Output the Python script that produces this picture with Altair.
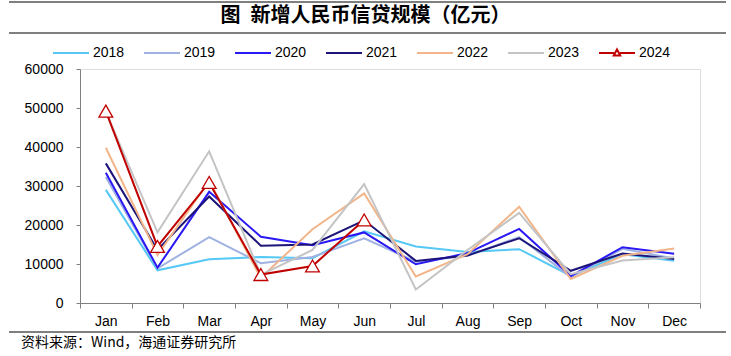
import altair as alt
import pandas as pd

months = ["Jan", "Feb", "Mar", "Apr", "May", "Jun", "Jul", "Aug", "Sep", "Oct", "Nov", "Dec"]
years = ["2018", "2019", "2020", "2021", "2022", "2023", "2024"]

v2018 = [29000, 8393, 11200, 11800, 11500, 18400, 14500, 13100, 13800, 6970, 12500, 10800]
v2019 = [32300, 8858, 16900, 10200, 11800, 16600, 10600, 12100, 16900, 6613, 13900, 11400]
v2020 = [33400, 9057, 28500, 17000, 14800, 18100, 9927, 12800, 19000, 6898, 14300, 12600]
v2021 = [35800, 13600, 27300, 14700, 15000, 21200, 10800, 12200, 16600, 8262, 12700, 11300]
v2022 = [39800, 12300, 31300, 6454, 18900, 28100, 6790, 12500, 24700, 6152, 12100, 14000]
v2023 = [49000, 18100, 38900, 7188, 13600, 30500, 3459, 13600, 23100, 7384, 10900, 11700]
v2024 = [49200, 14500, 30900, 7300, 9500, 21300]

series = [v2018, v2019, v2020, v2021, v2022, v2023, v2024]
colors = ["#55C8F5", "#9FB2E2", "#2A18F5", "#1C1478", "#F2B58A", "#C4C4C4", "#C00000"]
widths = [2, 2, 2, 2, 2, 2, 3]
y_ticks = [0, 10000, 20000, 30000, 40000, 50000, 60000]

title_text = "图\u2002新增人民币信贷规模（亿元）"
source_text = "资料来源：Wind，海通证券研究所"

rows = []
for yr, vals in zip(years, series):
    for m, v in zip(months, vals):
        rows.append({"month": m, "year": yr, "value": v})
df = pd.DataFrame(rows)
df24 = df[df["year"] == "2024"]

FONT = "Liberation Sans"
CJK = "Noto Sans CJK SC"
AXC = "#808080"

LINE_PATH = "M-1,0H1"
TRI_PATH = "M-1,0H-0.17M0.17,0H1M0,-0.2L0.18,0.14L-0.18,0.14Z"
shapes = [LINE_PATH] * 6 + [TRI_PATH]

x_enc = alt.X(
    "month:N", sort=months, bandPosition=0.5,
    scale=alt.Scale(type="band", paddingInner=0, paddingOuter=0),
    axis=alt.Axis(title=None, tickBand="extent", labelAngle=0, labelFont=FONT,
                  labelFontSize=14, labelColor="black", labelPadding=6,
                  tickSize=5, tickColor=AXC, domainColor=AXC, grid=False),
)
y_enc = alt.Y(
    "value:Q", scale=alt.Scale(domain=[0, 60000], nice=False),
    axis=alt.Axis(title=None, values=y_ticks, format="d", labelFont=FONT,
                  labelFontSize=14, labelColor="black", labelPadding=13,
                  tickSize=4, tickColor=AXC, domainColor=AXC, grid=False),
)

legend = alt.Legend(
    orient="none", legendX=-28, legendY=-35, direction="horizontal", columns=7,
    title=None, symbolSize=1296, symbolStrokeWidth=2,
    labelFont=FONT, labelFontSize=14, labelColor="black", labelOffset=3,
    columnPadding=15,
)

lines = alt.Chart(df).mark_line(strokeJoin="miter").encode(
    x=x_enc, y=y_enc,
    color=alt.Color("year:N", scale=alt.Scale(domain=years, range=colors), legend=None),
    strokeWidth=alt.StrokeWidth("year:N", scale=alt.Scale(domain=years, range=widths), legend=None),
)

points = alt.Chart(df24).mark_point(
    shape="triangle-up", filled=True, fill="white", stroke="#C00000",
    strokeWidth=1.3, size=190, opacity=1,
).encode(x=x_enc, y=y_enc)

# legend-only layer: drawn outside the clipped plot area
legend_layer = alt.Chart(df24).mark_point(filled=False, clip=True, size=1296, opacity=1).encode(
    x=alt.value(0), y=alt.value(-3000),
    color=alt.Color("year:N", scale=alt.Scale(domain=years, range=colors), legend=legend),
    shape=alt.Shape("year:N", scale=alt.Scale(domain=years, range=shapes), legend=legend),
)

deco = pd.DataFrame({"k": [0]})
rule_top = alt.Chart(deco).mark_rule(color="black", strokeWidth=1.2).encode(
    x=alt.value(-71), x2=alt.value(646), y=alt.value(-67))
rule_mid = alt.Chart(deco).mark_rule(color="black", strokeWidth=1.2).encode(
    x=alt.value(-71), x2=alt.value(646), y=alt.value(-36))
rule_bot = alt.Chart(deco).mark_rule(color="black", strokeWidth=1.2).encode(
    x=alt.value(-71), x2=alt.value(646), y=alt.value(263))

title = alt.Chart(pd.DataFrame({"t": [title_text]})).mark_text(
    font=CJK, fontSize=20, fontWeight="bold", color="black", align="center",
    baseline="middle").encode(text="t:N", x=alt.value(285.5), y=alt.value(-53))
source = alt.Chart(pd.DataFrame({"t": [source_text]})).mark_text(
    font=CJK, fontSize=14, color="black", align="left",
    baseline="middle").encode(text="t:N", x=alt.value(-59), y=alt.value(274))

chart = alt.layer(lines, points, legend_layer, rule_top, rule_mid, rule_bot, title, source).resolve_scale(
    color="independent", shape="independent", strokeWidth="independent"
).properties(
    width=620, height=234,
    autosize=alt.AutoSizeParams(type="none"),
    padding={"left": 80, "top": 69, "right": 31, "bottom": 53},
).configure_view(stroke=None).configure(background="white")

chart.save("out.html", embed_options={"renderer": "svg", "actions": False})
